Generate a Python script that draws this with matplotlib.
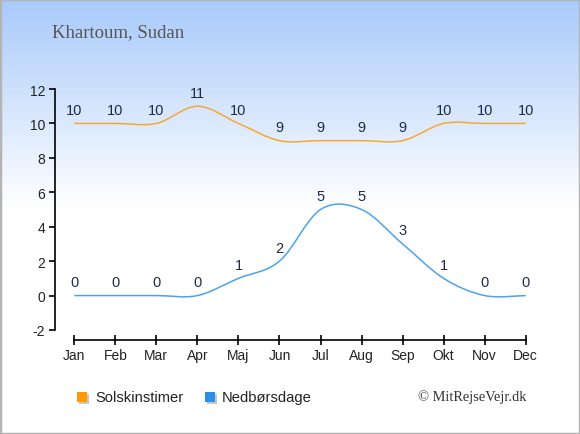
import numpy as np
import matplotlib
matplotlib.use("Agg")
import matplotlib.pyplot as plt
from matplotlib.path import Path
from matplotlib.patches import PathPatch, Rectangle

months = ["Jan", "Feb", "Mar", "Apr", "Maj", "Jun", "Jul", "Aug", "Sep", "Okt", "Nov", "Dec"]
sun_hours = [10, 10, 10, 11, 10, 9, 9, 9, 9, 10, 10, 10]
rain_days = [0, 0, 0, 0, 1, 2, 5, 5, 3, 1, 0, 0]
yticks = [-2, 0, 2, 4, 6, 8, 10, 12]
title = "Khartoum, Sudan"
legend_labels = ["Solskinstimer", "Nedbørsdage"]
credit = "© MitRejseVejr.dk"

W, H = 580, 435
fig = plt.figure(figsize=(W / 100, H / 100), dpi=100)

# background gradient
bg = fig.add_axes([0, 0, 1, 1])
bg.set_axis_off()
t = np.linspace(0, 1, 435)
frac = np.clip(t / 0.48, 0, 1)
top = np.array([0.659, 0.792, 0.984])
bot = np.array([1.0, 1.0, 1.0])
img = top[None, :] * (1 - frac[:, None]) + bot[None, :] * frac[:, None]
img = np.repeat(img[:, None, :], 2, axis=1)
bg.imshow(img, aspect="auto", extent=[0, 1, 0, 1], origin="upper")
bg.set_xlim(0, 1)
bg.set_ylim(0, 1)
bg.add_patch(Rectangle((0, 0), 1, 1, transform=bg.transAxes, fill=False,
                       edgecolor="#b4b4b4", linewidth=2.5))

def px(x, y):
    return x / W, 1 - y / H

x0, x1 = 55, 525.7
ytop, ybot = 90, 341
ax = fig.add_axes([x0 / W, 1 - ybot / H, (x1 - x0) / W, (ybot - ytop) / H])
ax.patch.set_alpha(0)
unit = (331 - 90) / 14.0
ax.set_ylim(-2 - (341 - 331) / unit, 12)
step = (525.7 - 74.3) / 11
ax.set_xlim(-(74.3 - 55) / step, 11)

for s in ["top", "right"]:
    ax.spines[s].set_visible(False)
ax.spines["left"].set_bounds(-2, 12)
ax.spines["bottom"].set_bounds(0, 11)
ax.spines["left"].set_linewidth(1.2)
ax.spines["bottom"].set_linewidth(1.2)
ax.set_yticks(yticks)
ax.set_yticklabels([str(v) for v in yticks])
ax.set_xticks(range(12))
ax.set_xticklabels(months)
ax.tick_params(axis="y", direction="out", length=4, width=1.2, labelsize=10, pad=3)
ax.tick_params(axis="x", direction="inout", length=7, width=1.2, labelsize=10, pad=2)
for lab in ax.get_xticklabels() + ax.get_yticklabels():
    lab.set_fontfamily("Liberation Sans")
    lab.set_color("#222222")

def smooth_path(vals):
    n = len(vals)
    p = [(i, v) for i, v in enumerate(vals)]
    verts = [p[0]]
    codes = [Path.MOVETO]
    for i in range(n - 1):
        pm = p[max(i - 1, 0)]
        p0 = p[i]
        p1 = p[i + 1]
        p2 = p[min(i + 2, n - 1)]
        c1 = (p0[0] + (p1[0] - pm[0]) / 6, p0[1] + (p1[1] - pm[1]) / 6)
        c2 = (p1[0] - (p2[0] - p0[0]) / 6, p1[1] - (p2[1] - p0[1]) / 6)
        verts += [c1, c2, p1]
        codes += [Path.CURVE4] * 3
    return Path(verts, codes)

ax.add_patch(PathPatch(smooth_path(sun_hours), fill=False, edgecolor="#f7a830", lw=1.1))
ax.add_patch(PathPatch(smooth_path(rain_days), fill=False, edgecolor="#4ba3ee", lw=1.1))

for series in (sun_hours, rain_days):
    for i, v in enumerate(series):
        ax.annotate(str(v), (i, v), xytext=(0, 9.8), textcoords="offset points",
                    ha="center", va="center", fontsize=10.5, color="#1e2b48",
                    fontfamily="Liberation Sans")

fig.text(*px(52, 33), title, fontsize=13.5, color="#555555",
         fontfamily="Liberation Serif", ha="left", va="center")

# legend
for (cx, col, lab, tx) in [(82, "#ff9a00", legend_labels[0], 95),
                            (210, "#2b8fe6", legend_labels[1], 222)]:
    sx, sy = px(cx - 5 + 1.5, 398 + 5 + 1.5)
    fig.patches.append(Rectangle((sx, sy), 10 / W, 10 / H, transform=fig.transFigure,
                                 facecolor="#c8c8c8", edgecolor="none", figure=fig))
    sx, sy = px(cx - 5, 398 + 5)
    fig.patches.append(Rectangle((sx, sy), 10 / W, 10 / H, transform=fig.transFigure,
                                 facecolor=col, edgecolor="none", figure=fig))
    fig.text(*px(tx, 398), lab, fontsize=10.6, color="#222222",
             fontfamily="Liberation Sans", ha="left", va="center")

fig.text(*px(526, 397), credit, fontsize=10.4, color="#333333",
         fontfamily="Liberation Serif", ha="right", va="center")

fig.savefig("out.png", dpi=100)
